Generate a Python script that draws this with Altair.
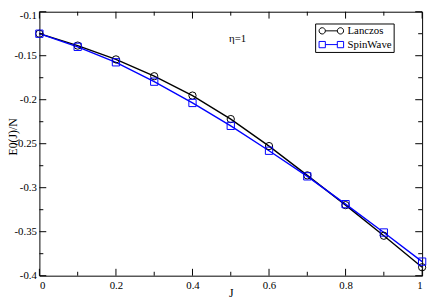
import altair as alt
import pandas as pd

J = [0.0, 0.1, 0.2, 0.3, 0.4, 0.5, 0.6, 0.7, 0.8, 0.9, 1.0]
lanczos = [-0.125, -0.1385, -0.1542, -0.1733, -0.1953, -0.222, -0.2527, -0.286, -0.3198, -0.3546, -0.3904]
spinwave = [-0.125, -0.1399, -0.1575, -0.1795, -0.2037, -0.2297, -0.258, -0.2871, -0.3187, -0.3509, -0.384]
series = ["Lanczos", "SpinWave"]
colors = ["black", "blue"]

x_major = [0.0, 0.2, 0.4, 0.6, 0.8, 1.0]
x_minor = [0.1, 0.3, 0.5, 0.7, 0.9]
y_major = [-0.4, -0.35, -0.3, -0.25, -0.2, -0.15, -0.1]
y_minor = [-0.375, -0.325, -0.275, -0.225, -0.175, -0.125]

note_text = ["η=1"]
note_x = [0.518]
note_y = [-0.131]

W, H = 390, 269
FONT = "Liberation Serif"

df = pd.DataFrame({
    "J": J * 2,
    "E": lanczos + spinwave,
    "series": [series[0]] * len(J) + [series[1]] * len(J),
})

xs = alt.Scale(domain=[0, 1], nice=False, zero=False)
ys = alt.Scale(domain=[-0.4, -0.1], nice=False, zero=False)
cs = alt.Scale(domain=series, range=colors)

circ = ("M-2.5,0A0.64,0.64 0 1,1 -1.22,0A0.64,0.64 0 1,1 -2.5,0"
        "M-1.22,0L1.22,0"
        "M1.22,0A0.64,0.64 0 1,1 2.5,0A0.64,0.64 0 1,1 1.22,0")
sq = ("M-2.5,-0.64L-1.22,-0.64L-1.22,0.64L-2.5,0.64Z"
      "M-1.22,0L1.22,0"
      "M1.22,-0.64L2.5,-0.64L2.5,0.64L1.22,0.64Z")

legend = alt.Legend(
    title=None, orient="none", legendX=281, legendY=12,
    padding=2, strokeColor="black", fillColor="white",
    labelFont=FONT, labelFontSize=11, labelColor="black",
    symbolSize=100, symbolStrokeWidth=1, symbolOffset=9, labelOffset=11,
    rowPadding=2, symbolFillColor="transparent",
    symbolType={"expr": f"datum.value === 'Lanczos' ? '{circ}' : '{sq}'"},
)

x_axis = alt.Axis(
    values=x_major, labelExpr="toString(datum.value)", ticks=False, domain=False,
    grid=False, labelFont=FONT, labelFontSize=11, labelColor="black", labelPadding=4,
    title="J", titleFont=FONT, titleFontSize=12, titleFontWeight="normal",
    titleColor="black", titleY=21, titleBaseline="alphabetic", titleX=W / 2,
)
y_axis = alt.Axis(
    values=y_major, labelExpr="toString(datum.value)", ticks=False, domain=False,
    grid=False, labelFont=FONT, labelFontSize=11, labelColor="black", labelPadding=3,
    labelOffset={"condition": {"test": "datum.value == -0.1", "value": 4}, "value": 0},
    title="E0(J)/N", titleFont=FONT, titleFontSize=12, titleFontWeight="normal",
    titleColor="black", titleAngle=270, titleX=-23.5, titleY=127, titleBaseline="alphabetic",
)

X = alt.X("J:Q", scale=xs, axis=x_axis)
Y = alt.Y("E:Q", scale=ys, axis=y_axis)
C = alt.Color("series:N", scale=cs, legend=legend)

base = alt.Chart(df)
lines = base.mark_line(strokeWidth=1.4).encode(x=X, y=Y, color=C, detail="series:N")
pts_c = base.transform_filter(alt.datum.series == series[0]).mark_point(
    shape="circle", filled=False, strokeWidth=1, size=55, opacity=1).encode(x=X, y=Y, color=C)
pts_s = base.transform_filter(alt.datum.series == series[1]).mark_point(
    shape="square", filled=False, strokeWidth=1, size=55, opacity=1).encode(x=X, y=Y, color=C)

def xticks(vals, length):
    d = pd.DataFrame({"J": vals})
    b = alt.Chart(d).mark_rule(color="black", strokeWidth=1)
    bottom = b.encode(x=X, y=alt.value(H), y2=alt.value(H - length))
    top = b.encode(x=X, y=alt.value(0), y2=alt.value(length))
    return [bottom, top]

def yticks(vals, length):
    d = pd.DataFrame({"E": vals})
    b = alt.Chart(d).mark_rule(color="black", strokeWidth=1)
    left = b.encode(y=Y, x=alt.value(0), x2=alt.value(length))
    right = b.encode(y=Y, x=alt.value(W), x2=alt.value(W - length))
    return [left, right]

note = alt.Chart(pd.DataFrame({"J": note_x, "E": note_y, "t": note_text})).mark_text(
    font=FONT, fontSize=11, color="black", align="center", baseline="middle"
).encode(x=X, y=Y, text="t:N")

layers = xticks(x_major, 7) + xticks(x_minor, 4) + yticks(y_major, 7) + yticks(y_minor, 4)

chart = alt.layer(lines, pts_c, pts_s, note, *layers).properties(
    width=W, height=H,
    padding={"left": 32, "top": 1, "right": 6, "bottom": 23},
    autosize=alt.AutoSizeParams(type="none"),
    background="white",
).configure_view(stroke="black", strokeWidth=1)

chart.save("out.html", embed_options={"renderer": "svg", "actions": False})
